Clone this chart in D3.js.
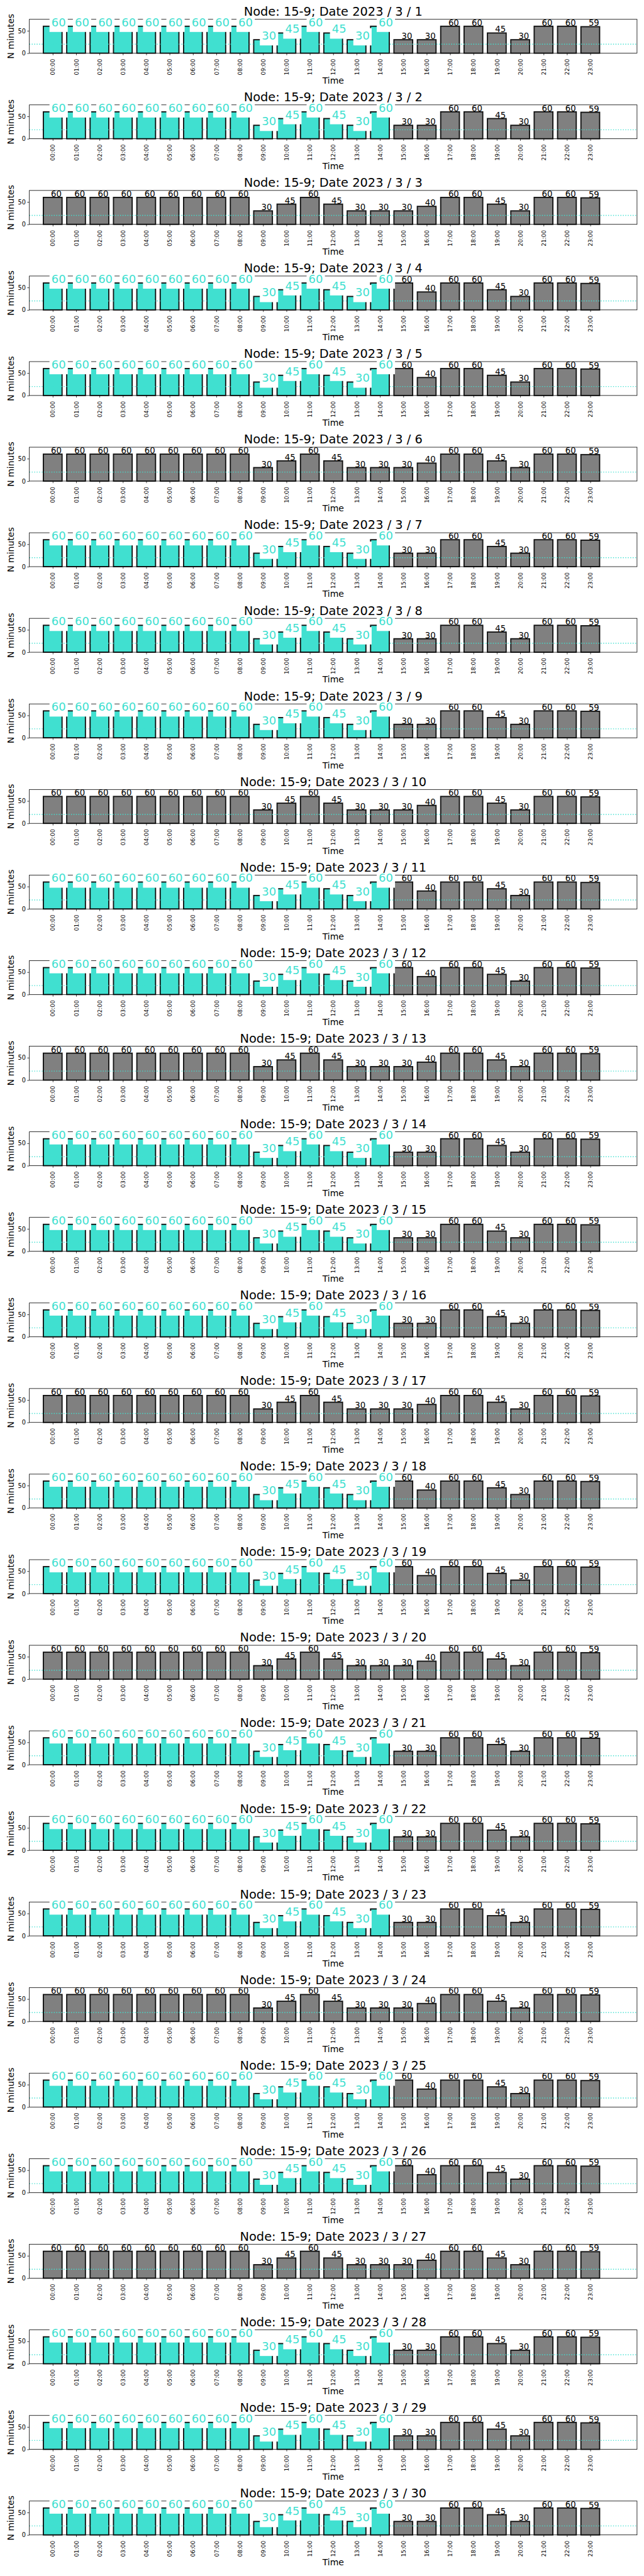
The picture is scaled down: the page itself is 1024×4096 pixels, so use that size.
<!DOCTYPE html>
<html><head><meta charset="utf-8">
<script src="https://cdn.jsdelivr.net/npm/d3@7"></script>
<style>
body{margin:0;background:#fff}
svg{display:block}
text{font-family:"DejaVu Sans",sans-serif}
</style>
</head><body>
<svg id="chart" width="1024" height="4096"></svg>
<script>
// ---------------- data ----------------
const hours = ["00:00","01:00","02:00","03:00","04:00","05:00","06:00","07:00","08:00","09:00","10:00","11:00",
               "12:00","13:00","14:00","15:00","16:00","17:00","18:00","19:00","20:00","21:00","22:00","23:00"];
const days = [1,2,3,4,5,6,7,8,9,10,11,12,13,14,15,16,17,18,19,20,21,22,23,24,25,26,27,28,29,30];
// profile per day: "mid" = Tue-Thu, "mf" = Mon/Fri, "we" = weekend
const dayType = ["mid","mid","mf","we","we","mf","mid","mid","mid","mf","we","we","mf","mid","mid",
                 "mid","mf","we","we","mf","mid","mid","mid","mf","we","we","mf","mid","mid","mid"];
const valuesMid = [60,60,60,60,60,60,60,60,60,30,45,60,45,30,60,30,30,60,60,45,30,60,60,59];
const valuesMonFri = [60,60,60,60,60,60,60,60,60,30,45,60,45,30,30,30,40,60,60,45,30,60,60,59];
const valuesWeekend = [60,60,60,60,60,60,60,60,60,30,45,60,45,30,60,60,40,60,60,45,30,60,60,59];
const highlightedTypes = ["mid","we"];   // days drawn with the turquoise overlay
const highlightHourCount = 15;           // hours 00:00 .. 14:00 highlighted
const threshold = 20;
const yTickValues = [0, 50];
const nodeName = "15-9";
const year = 2023, month = 3;

// ---------------- layout ----------------
const S = 0.682;
const TURQ = "#40E0D0", GRAY = "#808080", EDGE = "#111111";
const axLeft = 68.4 * S, axRight = 1485.2 * S;
const axTop0 = 45 * S, panelStep = 199.52 * S, axH = 79 * S;
const axW = axRight - axLeft;

const x = d3.scaleLinear().domain([-1, 25]).range([axLeft, axRight]);
const y = d3.scaleLinear().domain([0, 75.5]).range([axH, 0]);
const half = 0.4;

const svg = d3.select("#chart");
const profiles = {mid: valuesMid, mf: valuesMonFri, we: valuesWeekend};

days.forEach((day, k) => {
  const vals = profiles[dayType[k]];
  const hl = highlightedTypes.includes(dayType[k]);
  const data = vals.map((v, i) => ({v, i, hl: hl && i < highlightHourCount}));
  const g = svg.append("g").attr("transform", `translate(0,${axTop0 + k * panelStep})`);

  // bars
  g.selectAll("rect.bar").data(data).join("rect")
    .attr("class", "bar")
    .attr("x", d => x(d.i - half))
    .attr("width", d => x(d.i + half) - x(d.i - half))
    .attr("y", d => y(d.v))
    .attr("height", d => y(0) - y(d.v))
    .attr("fill", d => d.hl ? TURQ : GRAY)
    .attr("stroke", EDGE)
    .attr("stroke-width", 1.85);

  // threshold dotted line
  g.append("line")
    .attr("x1", axLeft).attr("x2", axRight)
    .attr("y1", y(threshold)).attr("y2", y(threshold))
    .attr("stroke", TURQ).attr("stroke-width", 1.4)
    .attr("stroke-dasharray", "1.4 2.5");

  // black value labels
  g.selectAll("text.val").data(data.filter(d => !d.hl)).join("text")
    .attr("class", "val")
    .attr("x", d => x(d.i) - 2.7)
    .attr("y", d => y(d.v) - 1)
    .attr("font-size", 13.3)
    .attr("fill", "#000")
    .text(d => d.v);

  // frame
  g.append("rect").attr("x", axLeft).attr("y", 0).attr("width", axW).attr("height", axH)
    .attr("fill", "none").attr("stroke", "#000").attr("stroke-width", 0.8);

  // x axis
  const xa = g.append("g").attr("transform", `translate(0,${axH})`)
    .call(d3.axisBottom(x).tickValues(hours.map((h, i) => i)).tickFormat(i => hours[i]).tickSize(3.3));
  xa.select(".domain").remove();
  xa.selectAll("line").attr("stroke", "#000").attr("stroke-width", 0.75);
  xa.selectAll("text")
    .attr("transform", "rotate(-90)")
    .attr("x", -9).attr("y", 0).attr("dy", "0.35em")
    .style("text-anchor", "end")
    .attr("font-size", 9)
    .attr("font-family", "DejaVu Sans")
    .attr("fill", "#000");

  // y axis
  const ya = g.append("g").attr("transform", `translate(${axLeft},0)`)
    .call(d3.axisLeft(y).tickValues(yTickValues).tickSize(3.3).tickPadding(2.4));
  ya.select(".domain").remove();
  ya.selectAll("line").attr("stroke", "#000").attr("stroke-width", 0.75);
  ya.selectAll("text").attr("font-size", 9.8).attr("font-family", "DejaVu Sans").attr("fill", "#000");

  // highlighted labels with white boxes
  if (hl) {
    const fs = 18, pad = 3.1;
    data.filter(d => d.hl).forEach(d => {
      const lg = g.append("g");
      const rect = lg.append("rect").attr("fill", "#fff");
      const tx = x(d.i) - 2;
      const ty = y(d.v);
      const t = lg.append("text").attr("x", tx).attr("y", ty)
        .attr("font-size", fs).attr("fill", TURQ).text(d.v);
      const w = t.node().getComputedTextLength();
      rect.attr("x", tx - pad).attr("width", w + 2 * pad)
        .attr("y", ty - 0.76 * fs - 4.8).attr("height", 0.76 * fs + 0.236 * fs + 9.6);
    });
  }

  // title
  g.append("text").attr("x", (axLeft + axRight) / 2).attr("y", -5.7)
    .attr("text-anchor", "middle").attr("font-size", 19.4).attr("fill", "#000")
    .text(`Node: ${nodeName}; Date ${year} / ${month} / ${day}`);

  // axis labels
  g.append("text").attr("x", (axLeft + axRight) / 2).attr("y", axH + 48.4)
    .attr("text-anchor", "middle").attr("font-size", 14).attr("fill", "#000").text("Time");
  g.append("text").attr("transform", `translate(22.2,${axH / 2}) rotate(-90)`)
    .attr("text-anchor", "middle").attr("font-size", 14).attr("fill", "#000").text("N minutes");
});
</script>
</body></html>
